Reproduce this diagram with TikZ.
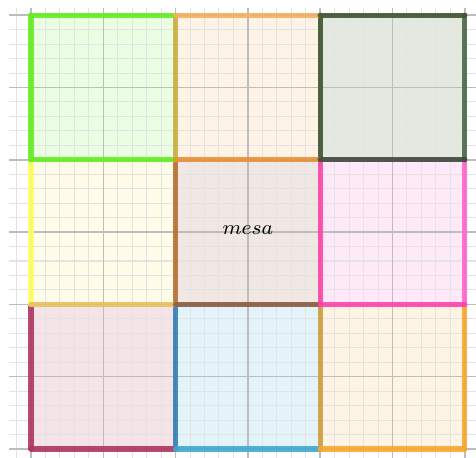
\documentclass[tikz,border=0pt]{standalone}
\begin{document}
\begin{tikzpicture}[
  edge/.style={line width=2.1pt, line cap=round, draw opacity=0.9},
  minorgrid/.style={draw=black!11, line width=0.4pt},
  majorgrid/.style={draw=black!26, line width=0.6pt}
]
\definecolor{fTL}{HTML}{EAFFE2}
\definecolor{fTM}{HTML}{FFF3E6}
\definecolor{fTR}{HTML}{E4E9E0}
\definecolor{fML}{HTML}{FFFDE8}
\definecolor{fMM}{HTML}{F2E8E3}
\definecolor{fMR}{HTML}{FFE8F8}
\definecolor{fBL}{HTML}{F5E3E8}
\definecolor{fBM}{HTML}{E3F3FA}
\definecolor{fBR}{HTML}{FFF3E3}
\definecolor{cGreen}{HTML}{66EE22}
\definecolor{cOrangeL}{HTML}{F5B060}
\definecolor{cDkGreen}{HTML}{3D5530}
\definecolor{cOrange}{HTML}{E8903A}
\definecolor{cDkGray}{HTML}{404840}
\definecolor{cGold}{HTML}{E8C060}
\definecolor{cBrown}{HTML}{8A5A40}
\definecolor{cMagenta}{HTML}{FF44AA}
\definecolor{cMaroon}{HTML}{B03560}
\definecolor{cCyan}{HTML}{40A8D0}
\definecolor{cOrangeB}{HTML}{F8A830}
\definecolor{cYellow}{HTML}{FFFF66}
\definecolor{cOlive}{HTML}{C8B040}
\definecolor{cBrOr}{HTML}{B87030}
\definecolor{cBlue}{HTML}{3080B8}
\definecolor{cGoldB}{HTML}{D0A040}
\definecolor{cDkGreenR}{HTML}{4A6A4A}
\definecolor{cMagentaR}{HTML}{FF66CC}
\useasboundingbox (-0.429,-0.124) rectangle (6.155,6.21);
\clip (-0.429,-0.124) rectangle (6.155,6.21);
% fills
\fill[fBL] (0,0) rectangle (2,2);
\fill[fBM] (2,0) rectangle (4,2);
\fill[fBR] (4,0) rectangle (6,2);
\fill[fML] (0,2) rectangle (2,4);
\fill[fMM] (2,2) rectangle (4,4);
\fill[fMR] (4,2) rectangle (6,4);
\fill[fTL] (0,4) rectangle (2,6);
\fill[fTM] (2,4) rectangle (4,6);
\fill[fTR] (4,4) rectangle (6,6);
% grid
\draw[minorgrid] (-0.3,-0.3) grid[step=0.2] (6.3,6.1);
\draw[majorgrid] (-0.3,-0.3) grid[step=1] (6.3,6.1);
% vertical edges
\draw[edge, cMaroon] (0,0) -- (0,2);
\draw[edge, cYellow] (0,2) -- (0,4);
\draw[edge, cGreen] (0,4) -- (0,6);
\draw[edge, cBlue] (2,0) -- (2,2);
\draw[edge, cBrOr] (2,2) -- (2,4);
\draw[edge, cOlive] (2,4) -- (2,6);
\draw[edge, cGoldB] (4,0) -- (4,2);
\draw[edge, cMagenta] (4,2) -- (4,4);
\draw[edge, cDkGreen] (4,4) -- (4,6);
\draw[edge, cOrangeB] (6,0) -- (6,2);
\draw[edge, cMagentaR] (6,2) -- (6,4);
\draw[edge, cDkGreenR] (6,4) -- (6,6);
% horizontal edges
\draw[edge, cMaroon] (0,0) -- (2,0);
\draw[edge, cCyan] (2,0) -- (4,0);
\draw[edge, cOrangeB] (4,0) -- (6,0);
\draw[edge, cGold] (0,2) -- (2,2);
\draw[edge, cBrown] (2,2) -- (4,2);
\draw[edge, cMagenta] (4,2) -- (6,2);
\draw[edge, cGreen] (0,4) -- (2,4);
\draw[edge, cOrange] (2,4) -- (4,4);
\draw[edge, cDkGray] (4,4) -- (6,4);
\draw[edge, cGreen] (0,6) -- (2,6);
\draw[edge, cOrangeL] (2,6) -- (4,6);
\draw[edge, cDkGreen] (4,6) -- (6,6);
\node[font=\fontsize{8.1}{10}\selectfont] (mesa) at (3,3.03) {$mesa$};
\end{tikzpicture}
\end{document}
